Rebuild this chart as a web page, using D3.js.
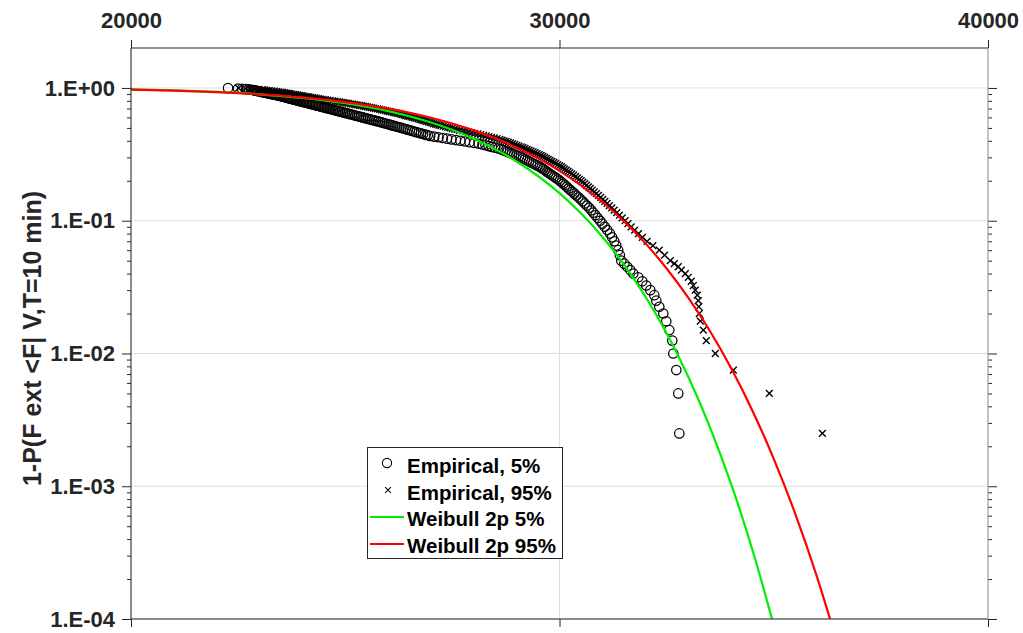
<!DOCTYPE html>
<html>
<head>
<meta charset="utf-8">
<script src="https://cdn.jsdelivr.net/npm/d3@7"></script>
<style>
  html, body { margin: 0; padding: 0; background: #fff; }
  svg { display: block; font-family: "Liberation Sans", Arial, Helvetica, sans-serif; }
</style>
</head>
<body>
<div id="chart"></div>
<script>
// Exceedance probability of the 10-min extreme load, empirical vs Weibull 2p fits

// axis ticks
const xTicks = [20000, 30000, 40000];
const yDecades = [1e-4, 1e-3, 1e-2, 1e-1, 1];

// empirical plotting positions (shared by both empirical series)
const empProb = [
  0.9975, 0.99, 0.985, 0.98, 0.975, 0.97, 0.965, 0.96, 0.955, 0.95, 0.945, 0.94, 0.935, 0.93, 0.925, 0.92, 0.915, 0.91, 0.905,
  0.90, 0.895, 0.89, 0.885, 0.88, 0.875, 0.87, 0.865, 0.86, 0.855, 0.85, 0.845, 0.84, 0.835, 0.83, 0.825, 0.82, 0.815, 0.81, 0.805,
  0.80, 0.795, 0.79, 0.785, 0.78, 0.775, 0.77, 0.765, 0.76, 0.755, 0.75, 0.745, 0.74, 0.735, 0.73, 0.725, 0.72, 0.715, 0.71, 0.705,
  0.70, 0.695, 0.69, 0.685, 0.68, 0.675, 0.67, 0.665, 0.66, 0.655, 0.65, 0.645, 0.64, 0.635, 0.63, 0.625, 0.62, 0.615, 0.61, 0.605,
  0.60, 0.595, 0.59, 0.585, 0.58, 0.575, 0.57, 0.565, 0.56, 0.555, 0.55, 0.545, 0.54, 0.535, 0.53, 0.525, 0.52, 0.515, 0.51, 0.505,
  0.50, 0.495, 0.49, 0.485, 0.48, 0.475, 0.47, 0.465, 0.46, 0.455, 0.45, 0.445, 0.44, 0.435, 0.43, 0.425, 0.42, 0.415, 0.41, 0.405,
  0.40, 0.395, 0.39, 0.385, 0.38, 0.375, 0.37, 0.365, 0.36, 0.355, 0.35, 0.345, 0.34, 0.335, 0.33, 0.325, 0.32, 0.315, 0.31, 0.305,
  0.30, 0.295, 0.29, 0.285, 0.28, 0.275, 0.27, 0.265, 0.26, 0.255, 0.25, 0.245, 0.24, 0.235, 0.23, 0.225, 0.22, 0.215, 0.21, 0.205,
  0.20, 0.195, 0.19, 0.185, 0.18, 0.175, 0.17, 0.165, 0.16, 0.155, 0.15, 0.145, 0.14, 0.135, 0.13, 0.125, 0.12, 0.115, 0.11, 0.105,
  0.10, 0.095, 0.09, 0.085, 0.08, 0.075, 0.07, 0.065, 0.06, 0.055, 0.05,
  0.0475, 0.045, 0.0425, 0.04, 0.0375, 0.035, 0.0325, 0.03, 0.0275, 0.025,
  0.0225, 0.02, 0.0175, 0.015, 0.0125, 0.01, 0.0075, 0.005, 0.0025
];

// empirical 5% loads
const emp5Load = [
  22265, 22498, 22592, 22685, 22746, 22807, 22839, 22870, 22903, 22935, 22969, 23003, 23036, 23068, 23102, 23136, 23170, 23204, 23238,
  23271, 23306, 23341, 23376, 23411, 23448, 23481, 23512, 23542, 23573, 23603, 23633, 23664, 23694, 23724, 23757, 23787, 23820, 23853, 23883,
  23916, 23948, 23981, 24014, 24047, 24082, 24114, 24149, 24182, 24217, 24250, 24285, 24320, 24355, 24390, 24425, 24462, 24497, 24535, 24572,
  24607, 24644, 24682, 24719, 24756, 24796, 24833, 24873, 24913, 24953, 24992, 25032, 25072, 25111, 25153, 25195, 25235, 25277, 25319, 25363,
  25406, 25450, 25492, 25539, 25581, 25627, 25672, 25718, 25763, 25809, 25854, 25896, 25940, 25987, 26031, 26076, 26122, 26169, 26216, 26265,
  26312, 26361, 26410, 26459, 26508, 26559, 26608, 26659, 26713, 26764, 26818, 26872, 26926, 26982, 27077, 27178, 27276, 27376, 27479, 27584,
  27687, 27794, 27899, 28009, 28116, 28201, 28273, 28345, 28420, 28497, 28572, 28637, 28686, 28738, 28787, 28838, 28889, 28943, 28997, 29053,
  29102, 29149, 29193, 29242, 29289, 29338, 29387, 29438, 29487, 29541, 29581, 29621, 29660, 29701, 29742, 29784, 29826, 29872, 29917, 29964,
  30010, 30050, 30090, 30130, 30169, 30212, 30255, 30301, 30346, 30394, 30442, 30491, 30540, 30589, 30638, 30690, 30741, 30790, 30839, 30893,
  30946, 31000, 31056, 31115, 31178, 31227, 31280, 31325, 31369, 31409, 31442,
  31512, 31582, 31652, 31722, 31838, 31932, 32025, 32119, 32212, 32259,
  32329, 32422, 32492, 32562, 32632, 32656, 32726, 32772, 32796
];

// empirical 95% loads
const emp95Load = [
  22512, 22674, 22781, 22888, 22975, 23061, 23116, 23171, 23228, 23285, 23343, 23400, 23452, 23503, 23545, 23587, 23629, 23671, 23713,
  23755, 23798, 23841, 23886, 23930, 23973, 24016, 24062, 24107, 24152, 24196, 24242, 24287, 24333, 24378, 24430, 24481, 24537, 24593, 24648,
  24703, 24760, 24817, 24870, 24922, 24973, 25023, 25073, 25123, 25175, 25226, 25277, 25328, 25375, 25422, 25469, 25515, 25563, 25611, 25658,
  25704, 25753, 25802, 25846, 25889, 25935, 25980, 26025, 26069, 26115, 26160, 26207, 26253, 26294, 26335, 26375, 26414, 26454, 26494, 26534,
  26573, 26615, 26657, 26699, 26741, 26780, 26818, 26858, 26898, 26939, 26979, 27020, 27061, 27103, 27145, 27190, 27234, 27287, 27339, 27392,
  27444, 27499, 27554, 27610, 27666, 27735, 27804, 27876, 27948, 28022, 28095, 28161, 28226, 28288, 28350, 28413, 28476, 28542, 28607, 28656,
  28705, 28754, 28803, 28852, 28901, 28953, 29004, 29054, 29104, 29150, 29195, 29241, 29286, 29334, 29382, 29430, 29478, 29525, 29571, 29612,
  29653, 29694, 29735, 29778, 29821, 29866, 29910, 29957, 30003, 30042, 30080, 30120, 30160, 30201, 30241, 30285, 30328, 30372, 30416, 30461,
  30505, 30546, 30587, 30630, 30673, 30718, 30762, 30811, 30860, 30910, 30960, 31010, 31059, 31112, 31164, 31220, 31276, 31338, 31399, 31465,
  31530, 31598, 31673, 31754, 31843, 31934, 32044, 32179, 32329, 32453, 32586,
  32679, 32772, 32843, 32936, 33006, 33076, 33123, 33169, 33216, 33239,
  33251, 33263, 33286, 33356, 33426, 33636, 34057, 34897, 36135
];

// Weibull 2p fit curves
const weib5Load = [20000, 21000, 22000, 23000, 24000, 25000, 26000, 27000, 28000, 29000,
  30000, 30500, 31000, 31500, 32000, 32500, 33000, 33500, 34000, 34500, 35000];
const weib5Prob = [0.9753, 0.9590, 0.9338, 0.8961, 0.8419, 0.7672, 0.6694, 0.5496, 0.4152, 0.2795,
  0.1614, 0.1138, 0.0757, 0.0470, 0.0270, 0.0142, 0.00673, 0.00284, 0.00105, 0.000334, 0.0000897];

const weib95Load = [20000, 21000, 22000, 23000, 24000, 25000, 26000, 27000, 28000, 29000,
  30000, 31000, 31500, 32000, 32500, 33000, 33500, 34000, 34500, 35000, 35500, 36000, 36500];
const weib95Prob = [0.9724, 0.9561, 0.9319, 0.8970, 0.8485, 0.7833, 0.6993, 0.5967, 0.4795, 0.3557,
  0.2375, 0.1384, 0.0993, 0.0678, 0.0437, 0.02649, 0.01496, 0.007803, 0.003723, 0.001608,
  0.000622, 0.000212, 0.0000629];

const legendLabels = ["Empirical, 5%", "Empirical, 95%", "Weibull 2p 5%", "Weibull 2p 95%"];

// layout
const width = 1023, height = 633;
const plot = {left: 131, right: 988, top: 48, bottom: 619};
const axisColor = "#262626";

const x = d3.scaleLinear().domain([20000, 40000]).range([plot.left, plot.right]);
const y = d3.scaleLog().domain([1e-4, 2]).range([plot.bottom, plot.top]);

const svg = d3.select("#chart").append("svg")
  .attr("width", width)
  .attr("height", height);

// minor ticks 2..9 per decade
const minorTicks = [];
yDecades.slice(0, -1).forEach(d => {
  for (let k = 2; k <= 9; k++) minorTicks.push(d * k);
});

const fmtExp = d => {
  const e = Math.round(Math.log10(d));
  return "1.E" + (e < 0 ? "-" : "+") + String(Math.abs(e)).padStart(2, "0");
};

// grid
svg.append("g")
  .selectAll("line")
  .data(yDecades)
  .join("line")
  .attr("x1", plot.left).attr("x2", plot.right)
  .attr("y1", d => y(d)).attr("y2", d => y(d))
  .attr("stroke", "#dedede").attr("stroke-width", 1);

svg.append("g")
  .selectAll("line")
  .data(xTicks)
  .join("line")
  .attr("x1", d => x(d)).attr("x2", d => x(d))
  .attr("y1", plot.top).attr("y2", plot.bottom)
  .attr("stroke", "#dedede").attr("stroke-width", 1);

// clip
svg.append("defs").append("clipPath").attr("id", "clip")
  .append("rect")
  .attr("x", plot.left).attr("y", plot.top)
  .attr("width", plot.right - plot.left).attr("height", plot.bottom - plot.top);

const dataG = svg.append("g").attr("clip-path", "url(#clip)");

// empirical 5% (circles)
dataG.append("g")
  .selectAll("circle")
  .data(emp5Load.map((v, i) => [v, empProb[i]]))
  .join("circle")
  .attr("cx", d => x(d[0]))
  .attr("cy", d => y(d[1]))
  .attr("r", 4.7)
  .attr("fill", "none")
  .attr("stroke", "#000")
  .attr("stroke-width", 1.25);

// empirical 95% (crosses)
const crossPath = "M-3.4,-3.4L3.4,3.4M-3.4,3.4L3.4,-3.4";
dataG.append("g")
  .selectAll("path")
  .data(emp95Load.map((v, i) => [v, empProb[i]]))
  .join("path")
  .attr("transform", d => `translate(${x(d[0])},${y(d[1])})`)
  .attr("d", crossPath)
  .attr("fill", "none")
  .attr("stroke", "#000")
  .attr("stroke-width", 1.4);

// Weibull fits
const line = d3.line()
  .x(d => x(d[0]))
  .y(d => y(d[1]))
  .curve(d3.curveMonotoneX);

dataG.append("path")
  .datum(weib5Load.map((v, i) => [v, weib5Prob[i]]))
  .attr("d", line)
  .attr("fill", "none")
  .attr("stroke", "#00ee00")
  .attr("stroke-width", 2.2);

dataG.append("path")
  .datum(weib95Load.map((v, i) => [v, weib95Prob[i]]))
  .attr("d", line)
  .attr("fill", "none")
  .attr("stroke", "#ff0000")
  .attr("stroke-width", 2.2);

// axes
const styleAxis = g => {
  g.select(".domain").remove();
  g.selectAll(".tick line").attr("stroke", axisColor);
  g.selectAll("text")
    .attr("fill", axisColor)
    .attr("font-size", "22px")
    .attr("font-weight", "bold")
    .attr("font-family", "'Liberation Sans', Arial, sans-serif");
};

// top x axis with labels
svg.append("g")
  .attr("transform", `translate(0,${plot.top})`)
  .call(d3.axisTop(x).tickValues(xTicks).tickSize(8).tickSizeOuter(0).tickPadding(12).tickFormat(d3.format("d")))
  .call(styleAxis);

// bottom ticks, no labels
svg.append("g")
  .attr("transform", `translate(0,${plot.bottom})`)
  .call(d3.axisBottom(x).tickValues(xTicks).tickSize(8).tickSizeOuter(0).tickFormat(""))
  .call(styleAxis);

// left y axis: major + minor
svg.append("g")
  .attr("transform", `translate(${plot.left},0)`)
  .call(d3.axisLeft(y).tickValues(yDecades).tickSize(9).tickSizeOuter(0).tickPadding(7).tickFormat(fmtExp))
  .call(styleAxis);

svg.append("g")
  .attr("transform", `translate(${plot.left},0)`)
  .call(d3.axisLeft(y).tickValues(minorTicks).tickSize(4).tickSizeOuter(0).tickFormat(""))
  .call(styleAxis);

// right y axis: ticks only
svg.append("g")
  .attr("transform", `translate(${plot.right},0)`)
  .call(d3.axisRight(y).tickValues(yDecades).tickSize(9).tickSizeOuter(0).tickFormat(""))
  .call(styleAxis);

svg.append("g")
  .attr("transform", `translate(${plot.right},0)`)
  .call(d3.axisRight(y).tickValues(minorTicks).tickSize(4).tickSizeOuter(0).tickFormat(""))
  .call(styleAxis);

// frame
svg.append("line")
  .attr("x1", plot.left).attr("x2", plot.right)
  .attr("y1", plot.top).attr("y2", plot.top)
  .attr("stroke", axisColor);
svg.append("line")
  .attr("x1", plot.left).attr("x2", plot.right)
  .attr("y1", plot.bottom).attr("y2", plot.bottom)
  .attr("stroke", axisColor);
svg.append("line")
  .attr("x1", plot.left).attr("x2", plot.left)
  .attr("y1", plot.top).attr("y2", plot.bottom)
  .attr("stroke", axisColor);
svg.append("line")
  .attr("x1", plot.right).attr("x2", plot.right)
  .attr("y1", plot.top).attr("y2", plot.bottom)
  .attr("stroke", "#9a9a9a");

// y label
svg.append("text")
  .attr("transform", `translate(32,${(plot.top + plot.bottom) / 2 + 5}) rotate(-90)`)
  .attr("text-anchor", "middle")
  .attr("dominant-baseline", "central")
  .attr("font-size", "25px")
  .attr("font-weight", "bold")
  .attr("fill", axisColor)
  .text("1-P(F ext <F| V,T=10 min)");

// legend
const legend = svg.append("g");
legend.append("rect")
  .attr("x", 367.5).attr("y", 447.5)
  .attr("width", 195).attr("height", 111)
  .attr("fill", "#fff")
  .attr("stroke", axisColor)
  .attr("stroke-width", 1);

const rowY = [465, 492, 518, 545];

legend.append("circle")
  .attr("cx", 387).attr("cy", rowY[0] - 2)
  .attr("r", 4.6)
  .attr("fill", "none").attr("stroke", "#000").attr("stroke-width", 1.1);

legend.append("path")
  .attr("transform", `translate(388,${rowY[1] - 2}) scale(0.85)`)
  .attr("d", crossPath)
  .attr("fill", "none").attr("stroke", "#000").attr("stroke-width", 1.2);

legend.append("line")
  .attr("x1", 370).attr("x2", 404)
  .attr("y1", rowY[2] - 1).attr("y2", rowY[2] - 1)
  .attr("stroke", "#00ee00").attr("stroke-width", 2.2);

legend.append("line")
  .attr("x1", 370).attr("x2", 404)
  .attr("y1", rowY[3] - 1).attr("y2", rowY[3] - 1)
  .attr("stroke", "#ff0000").attr("stroke-width", 2.2);

legend.selectAll("text.lbl")
  .data(legendLabels)
  .join("text")
  .attr("class", "lbl")
  .attr("x", 407)
  .attr("y", (d, i) => rowY[i])
  .attr("dominant-baseline", "central")
  .attr("font-size", "20.5px")
  .attr("font-weight", "bold")
  .attr("fill", "#000")
  .text(d => d);
</script>
</body>
</html>
